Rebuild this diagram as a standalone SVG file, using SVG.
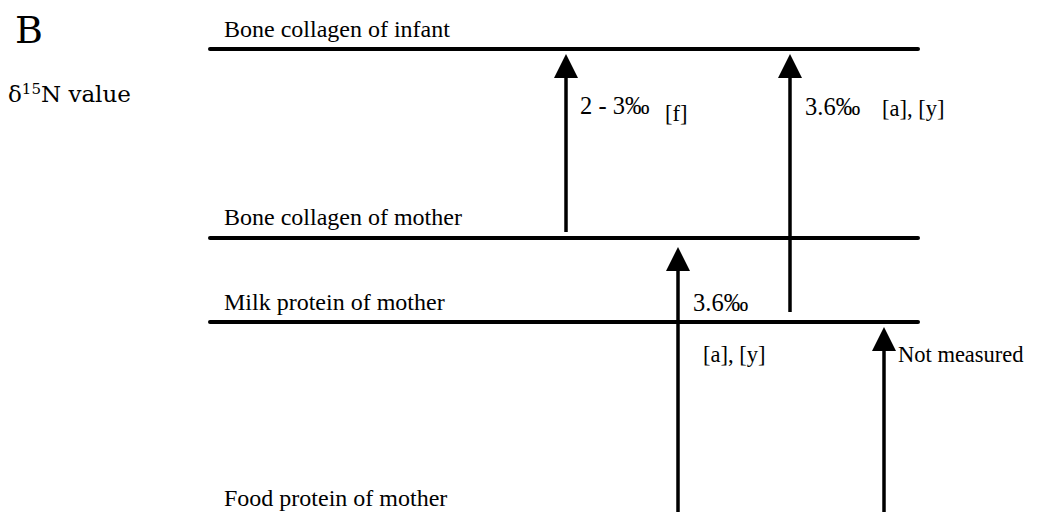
<svg xmlns="http://www.w3.org/2000/svg" width="1043" height="518" viewBox="0 0 1043 518">
<defs>
<style>
.t{font-family:"Liberation Serif","Times New Roman",serif;font-size:24px;fill:#000}
.s{font-family:"Liberation Serif","Times New Roman",serif;font-size:24.5px;fill:#000}
.r{font-family:"Liberation Serif","Times New Roman",serif;font-size:22.5px;fill:#000}
.lvl{stroke:#000;stroke-width:4;stroke-linecap:round}
.arr{stroke:#000;stroke-width:3.5;fill:none}
.hd{fill:#000}
</style>
</defs>
<rect width="1043" height="518" fill="#fff"/>
<g id="title">
<text x="15" y="43" font-family="DejaVu Serif, serif" font-size="38" fill="#000">B</text>
<text x="8" y="102" font-family="DejaVu Serif, serif" font-size="23" fill="#000">δ<tspan font-size="15" dy="-8">15</tspan><tspan dy="8">N value</tspan></text>
</g>
<g id="infant">
<line class="lvl" x1="210" y1="49" x2="918" y2="49"/>
<text class="t" x="224" y="37">Bone collagen of infant</text>
</g>
<g id="mother-bone">
<line class="lvl" x1="210" y1="238" x2="918" y2="238"/>
<text class="t" x="224" y="225">Bone collagen of mother</text>
</g>
<g id="milk">
<line class="lvl" x1="210" y1="322" x2="918" y2="322"/>
<text class="t" x="224" y="310">Milk protein of mother</text>
</g>
<g id="food">
<text class="t" x="224" y="506">Food protein of mother</text>
</g>
<g id="connectors">
<line class="arr" x1="566" y1="232" x2="566" y2="70"/>
<polygon class="hd" points="566,54 554,78 578,78"/>
<line class="arr" x1="790" y1="312" x2="790" y2="70"/>
<polygon class="hd" points="790,54 778,78 802,78"/>
<line class="arr" x1="678" y1="512" x2="678" y2="262"/>
<polygon class="hd" points="678,247 666,271 690,271"/>
<line class="arr" x1="884" y1="512" x2="884" y2="342"/>
<polygon class="hd" points="884,327 872,351 896,351"/>
</g>
<g id="labels">
<text class="s" x="580" y="114">2 - 3‰</text>
<text class="r" x="665" y="121">[f]</text>
<text class="s" x="805" y="115">3.6‰</text>
<text class="r" x="882" y="116">[a], [y]</text>
<text class="s" x="693" y="311">3.6‰</text>
<text class="r" x="703" y="362">[a], [y]</text>
<text class="r" x="898" y="362">Not measured</text>
</g>
</svg>
